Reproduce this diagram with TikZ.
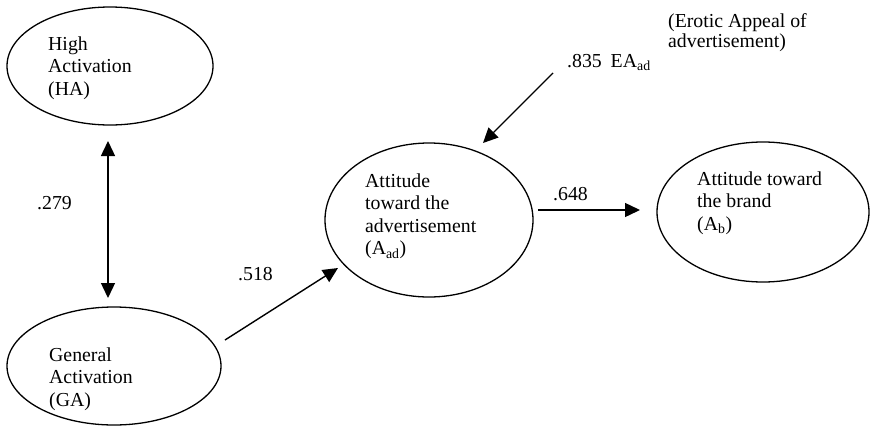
\documentclass[tikz,border=0pt]{standalone}
\usepackage{fontspec}
\setmainfont{Liberation Serif}
\usetikzlibrary{shapes.geometric,arrows.meta}
\begin{document}
\begin{tikzpicture}[x=1pt,y=-1pt,
  latent/.style={draw,ellipse,line width=1.3pt,inner sep=0pt},
  txt/.style={anchor=north west,inner sep=0pt,align=left,
    font=\fontsize{19.8}{22.5}\selectfont},
  lbl/.style={anchor=base west,inner sep=0pt,font=\fontsize{19.8}{22.5}\selectfont},
  arr/.style={line width=1.4pt,-{Triangle[length=15pt,width=14pt]}},
  dblarr/.style={line width=1.4pt,{Triangle[length=15pt,width=14pt]}-{Triangle[length=15pt,width=14pt]}}]
\useasboundingbox[fill=white] (0,0) rectangle (873,429);

% latent constructs
\node[latent,minimum width=206pt,minimum height=118pt] (HA) at (110,66) {};
\node[latent,minimum width=214pt,minimum height=118pt] (GA) at (114,366) {};
\node[latent,minimum width=208pt,minimum height=154pt] (Aad) at (429,220) {};
\node[latent,minimum width=212pt,minimum height=140pt] (Ab) at (763,212) {};

% construct labels
\node[txt] (HAt) at (48,36.5) {High\\Activation\\(HA)};
\node[txt] (GAt) at (49,347.5) {General\\Activation\\(GA)};
\node[txt] (Aadt) at (365,173.5) {Attitude\\toward the\\advertisement\\(A\textsubscript{ad})};
\node[txt] (Abt) at (697,171.5) {Attitude toward\\the brand\\(A\textsubscript{b})};
\node[txt,font=\fontsize{19.8}{20}\selectfont] (EAt) at (668,13.5) {(Erotic Appeal of\\advertisement)};

% path coefficients
\node[lbl] (c279) at (37,209) {.279};
\node[lbl] (c518) at (238,280) {.518};
\node[lbl] (c648) at (553,200) {.648};
\node[lbl] (EA) at (567,67) {.835\hspace{0.45em}EA\textsubscript{ad}};

% connector end points
\coordinate (hab) at (108,141);
\coordinate (gat) at (108,298);
\coordinate (gar) at (225,340);
\coordinate (aadl) at (338,268);
\coordinate (eas) at (553,73);
\coordinate (aadt) at (483,143);
\coordinate (aadr) at (538,210);
\coordinate (abl) at (640,210);

% paths
\draw[dblarr] (hab) -- (gat);
\draw[arr] (gar) -- (aadl);
\draw[arr] (eas) -- (aadt);
\draw[arr] (aadr) -- (abl);
\end{tikzpicture}
\end{document}
